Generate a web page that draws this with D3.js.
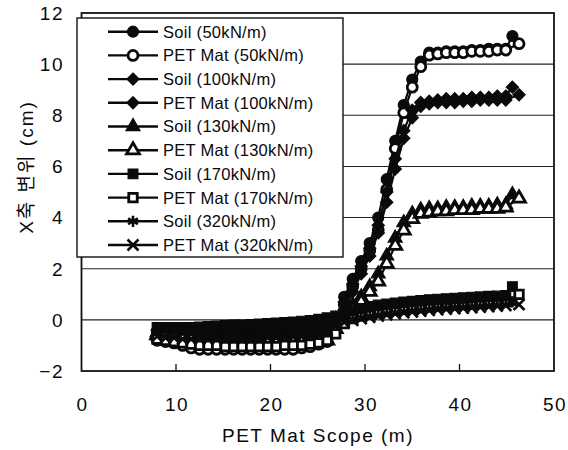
<!DOCTYPE html>
<html>
<head>
<meta charset="utf-8">
<script src="https://cdnjs.cloudflare.com/ajax/libs/d3/7.8.5/d3.min.js"></script>
<style>
  body { margin: 0; background: #fff; }
  text { font-family: "Liberation Sans", Arial, sans-serif; fill: #0a0a0a; }
</style>
</head>
<body>
<div id="chart"></div>
<script>
// PET mat scope positions (m), shared by every series
var scope = [8.0, 8.9, 9.8, 10.7, 11.6, 12.5, 13.4, 14.3, 15.2, 16.1, 17.0, 17.9, 18.8, 19.7,
  20.6, 21.5, 22.4, 23.3, 24.2, 25.1, 26.0, 26.9, 27.8, 28.7, 29.6, 30.5, 31.4, 32.3, 33.2,
  34.1, 35.0, 35.9, 36.8, 37.7, 38.6, 39.5, 40.4, 41.3, 42.2, 43.1, 44.0, 44.9];
// last reading of each run
var soilEndX = 45.6;
var petEndX = 46.3;

// X displacement (cm)
var soil50 = [-0.45, -0.45, -0.5, -0.5, -0.5, -0.55, -0.55, -0.55, -0.55, -0.55, -0.55, -0.55, -0.55, -0.55,
  -0.55, -0.5, -0.5, -0.5, -0.45, -0.4, -0.3, 0.0, 0.9, 1.6, 2.3, 3.0, 4.0, 5.5, 7.0,
  8.4, 9.4, 10.1, 10.45, 10.45, 10.5, 10.5, 10.5, 10.55, 10.55, 10.6, 10.6, 10.6, 11.1];
var pet50 = [-0.8, -0.85, -0.9, -1.0, -1.1, -1.15, -1.15, -1.15, -1.15, -1.15, -1.15, -1.15, -1.15, -1.15,
  -1.15, -1.15, -1.15, -1.1, -1.05, -0.95, -0.85, -0.4, 0.6, 1.3, 2.0, 2.7, 3.5, 5.1, 6.7,
  8.1, 9.1, 9.9, 10.35, 10.4, 10.45, 10.45, 10.45, 10.5, 10.5, 10.5, 10.55, 10.55, 10.8];
var soil100 = [-0.4, -0.4, -0.4, -0.45, -0.45, -0.45, -0.45, -0.45, -0.45, -0.45, -0.45, -0.45, -0.4, -0.4,
  -0.4, -0.4, -0.35, -0.35, -0.3, -0.25, -0.2, 0.1, 0.7, 1.4, 2.1, 2.8, 3.7, 5.0, 6.3,
  7.4, 8.2, 8.5, 8.55, 8.6, 8.65, 8.65, 8.65, 8.7, 8.7, 8.7, 8.75, 8.75, 9.1];
var pet100 = [-0.7, -0.75, -0.8, -0.85, -0.9, -0.9, -0.95, -0.95, -0.95, -0.95, -0.95, -0.95, -0.95, -0.95,
  -0.95, -0.9, -0.9, -0.85, -0.8, -0.7, -0.6, -0.2, 0.4, 1.1, 1.8, 2.5, 3.4, 4.6, 5.9,
  7.1, 7.9, 8.35, 8.45, 8.5, 8.5, 8.5, 8.55, 8.55, 8.6, 8.6, 8.6, 8.6, 8.8];
var soil130 = [-0.5, -0.5, -0.55, -0.6, -0.6, -0.6, -0.65, -0.65, -0.65, -0.65, -0.65, -0.65, -0.6, -0.6,
  -0.6, -0.6, -0.55, -0.55, -0.5, -0.45, -0.35, -0.05, 0.3, 0.6, 0.9, 1.3, 1.8, 2.5, 3.2,
  3.8, 4.15, 4.3, 4.35, 4.35, 4.4, 4.4, 4.4, 4.45, 4.45, 4.45, 4.5, 4.5, 4.9];
var pet130 = [-0.6, -0.65, -0.7, -0.75, -0.8, -0.85, -0.9, -0.9, -0.9, -0.9, -0.9, -0.9, -0.9, -0.9,
  -0.9, -0.9, -0.9, -0.9, -0.9, -0.85, -0.8, -0.35, 0.1, 0.4, 0.7, 1.1, 1.5, 2.2, 2.9,
  3.5, 3.95, 4.15, 4.2, 4.25, 4.25, 4.3, 4.3, 4.3, 4.35, 4.35, 4.35, 4.4, 4.75];
var soil170 = [-0.3, -0.3, -0.3, -0.3, -0.3, -0.28, -0.26, -0.24, -0.22, -0.2, -0.2, -0.18, -0.16, -0.14,
  -0.12, -0.1, -0.08, -0.05, -0.02, 0.02, 0.08, 0.15, 0.25, 0.35, 0.45, 0.52, 0.58, 0.62, 0.66,
  0.7, 0.73, 0.76, 0.79, 0.81, 0.83, 0.85, 0.87, 0.89, 0.9, 0.92, 0.93, 0.95, 1.3];
var pet170 = [-0.75, -0.8, -0.85, -0.9, -0.95, -1.0, -1.0, -1.0, -1.05, -1.05, -1.05, -1.05, -1.05, -1.05,
  -1.05, -1.0, -1.0, -1.0, -0.95, -0.9, -0.8, -0.55, -0.15, 0.05, 0.15, 0.22, 0.28, 0.33, 0.37,
  0.41, 0.45, 0.48, 0.51, 0.54, 0.56, 0.58, 0.6, 0.62, 0.64, 0.66, 0.68, 0.7, 1.0];
var soil320 = [-0.4, -0.4, -0.4, -0.4, -0.4, -0.38, -0.36, -0.34, -0.32, -0.3, -0.28, -0.26, -0.24, -0.22,
  -0.2, -0.18, -0.16, -0.14, -0.1, -0.06, 0.0, 0.08, 0.16, 0.24, 0.32, 0.38, 0.43, 0.48, 0.52,
  0.56, 0.59, 0.62, 0.65, 0.67, 0.69, 0.71, 0.73, 0.75, 0.77, 0.79, 0.8, 0.82, 0.7];
var pet320 = [-0.65, -0.7, -0.7, -0.75, -0.75, -0.75, -0.75, -0.75, -0.75, -0.75, -0.75, -0.75, -0.75, -0.7,
  -0.7, -0.7, -0.65, -0.6, -0.55, -0.5, -0.4, -0.25, -0.1, -0.02, 0.05, 0.1, 0.15, 0.2, 0.24,
  0.28, 0.31, 0.34, 0.37, 0.4, 0.42, 0.44, 0.46, 0.48, 0.5, 0.52, 0.54, 0.56, 0.6];

var seriesNames = ["Soil (50kN/m)", "PET Mat (50kN/m)", "Soil (100kN/m)", "PET Mat (100kN/m)",
  "Soil (130kN/m)", "PET Mat (130kN/m)", "Soil (170kN/m)", "PET Mat (170kN/m)",
  "Soil (320kN/m)", "PET Mat (320kN/m)"];
var xTicks = [0, 10, 20, 30, 40, 50];
var yTicks = [-2, 0, 2, 4, 6, 8, 10, 12];

var width = 568, height = 450;
var svg = d3.select("#chart").append("svg")
  .attr("width", width)
  .attr("height", height);

var xScale = d3.scaleLinear().domain([0, 50]).range([81.5, 554]);
var yScale = d3.scaleLinear().domain([-2, 12]).range([371, 13]);

// marker styles per series
var diamond = d3.symbolDiamond2 || d3.symbolDiamond;
var markers = [
  { type: d3.symbolCircle, size: 95, open: false },
  { type: d3.symbolCircle, size: 78, open: true },
  { type: diamond, size: 95, open: false },
  { type: diamond, size: 95, open: false },
  { type: d3.symbolTriangle, size: 85, open: false },
  { type: d3.symbolTriangle, size: 72, open: true },
  { type: d3.symbolSquare, size: 95, open: false },
  { type: d3.symbolSquare, size: 72, open: true },
  { type: d3.symbolAsterisk, size: 90, stroke: true },
  { type: d3.symbolTimes || d3.symbolX, size: 80, stroke: true }
];

var values = [soil50, pet50, soil100, pet100, soil130, pet130, soil170, pet170, soil320, pet320];
var series = values.map(function(v, i) {
  var endX = (i % 2 === 0) ? soilEndX : petEndX;
  var xs = scope.concat([endX]);
  return {
    name: seriesNames[i],
    marker: markers[i],
    points: v.map(function(y, j) { return { x: xs[j], y: y }; })
  };
});

function styleMarker(sel, m) {
  sel.attr("d", d3.symbol().type(m.type).size(m.size))
    .attr("fill", m.stroke ? "none" : (m.open ? "#fff" : "#0a0a0a"))
    .attr("stroke", "#0a0a0a")
    .attr("stroke-width", m.stroke ? 2.6 : (m.open ? 2.8 : 1.2));
}

// gridlines
svg.append("g").selectAll("line")
  .data(yTicks.filter(function(d) { return d > -2 && d < 12; }))
  .enter().append("line")
  .attr("x1", xScale(0)).attr("x2", xScale(50))
  .attr("y1", function(d) { return yScale(d); })
  .attr("y2", function(d) { return yScale(d); })
  .attr("stroke", "#222")
  .attr("stroke-width", 1.1);

// x ticks point inward
svg.append("g").selectAll("line")
  .data(xTicks.slice(1, -1))
  .enter().append("line")
  .attr("x1", function(d) { return xScale(d); })
  .attr("x2", function(d) { return xScale(d); })
  .attr("y1", yScale(-2)).attr("y2", yScale(-2) - 7)
  .attr("stroke", "#111").attr("stroke-width", 1.3);

// plot frame
svg.append("rect")
  .attr("x", xScale(0)).attr("y", yScale(12))
  .attr("width", xScale(50) - xScale(0))
  .attr("height", yScale(-2) - yScale(12))
  .attr("fill", "none")
  .attr("stroke", "#111")
  .attr("stroke-width", 1.8);

// tick labels
svg.append("g").selectAll("text")
  .data(xTicks)
  .enter().append("text")
  .attr("x", function(d) { return xScale(d) + 1; })
  .attr("y", 411)
  .attr("text-anchor", "middle")
  .style("font-size", "19px")
  .style("letter-spacing", "1.5px")
  .text(function(d) { return d; });

svg.append("g").selectAll("text")
  .data(yTicks)
  .enter().append("text")
  .attr("x", 64)
  .attr("y", function(d) { return yScale(d); })
  .attr("dy", "0.36em")
  .attr("text-anchor", "end")
  .style("font-size", "19px")
  .style("letter-spacing", "1.5px")
  .text(function(d) { return d < 0 ? "\u2212" + Math.abs(d) : d; });

// axis titles
svg.append("text")
  .attr("x", 318).attr("y", 442)
  .attr("text-anchor", "middle")
  .style("font-size", "19px")
  .style("letter-spacing", "1.5px")
  .text("PET Mat Scope (m)");

svg.append("text")
  .attr("transform", "translate(33,167) rotate(-90)")
  .attr("text-anchor", "middle")
  .style("font-family", "'Liberation Sans', 'Noto Sans CJK KR', sans-serif")
  .style("font-size", "19px")
  .style("letter-spacing", "2px")
  .text("X축 변위 (cm)");

// lines and markers
var line = d3.line()
  .x(function(d) { return xScale(d.x); })
  .y(function(d) { return yScale(d.y); });

var plot = svg.append("g");
series.forEach(function(s) {
  var g = plot.append("g");
  g.append("path")
    .attr("d", line(s.points))
    .attr("fill", "none")
    .attr("stroke", "#0a0a0a")
    .attr("stroke-width", 2.2);
  g.selectAll("path.mark")
    .data(s.points)
    .enter().append("path")
    .attr("class", "mark")
    .attr("transform", function(d) { return "translate(" + xScale(d.x) + "," + yScale(d.y) + ")"; })
    .call(styleMarker, s.marker);
});

// legend
var legend = svg.append("g");
legend.append("rect")
  .attr("x", 77).attr("y", 18)
  .attr("width", 266).attr("height", 239)
  .attr("fill", "#fff")
  .attr("stroke", "#111")
  .attr("stroke-width", 1.4);

var rows = legend.selectAll("g.row")
  .data(series)
  .enter().append("g")
  .attr("class", "row")
  .attr("transform", function(d, i) { return "translate(0," + (31.7 + i * 23.7) + ")"; });

rows.append("line")
  .attr("x1", 108).attr("x2", 158)
  .attr("stroke", "#0a0a0a").attr("stroke-width", 2.4);
rows.append("path")
  .attr("transform", "translate(133,0)")
  .each(function(d) { d3.select(this).call(styleMarker, d.marker); });
rows.append("text")
  .attr("x", 163)
  .attr("dy", "0.36em")
  .style("font-size", "16.5px")
  .style("letter-spacing", "0.3px")
  .text(function(d) { return d.name; });
</script>
</body>
</html>
